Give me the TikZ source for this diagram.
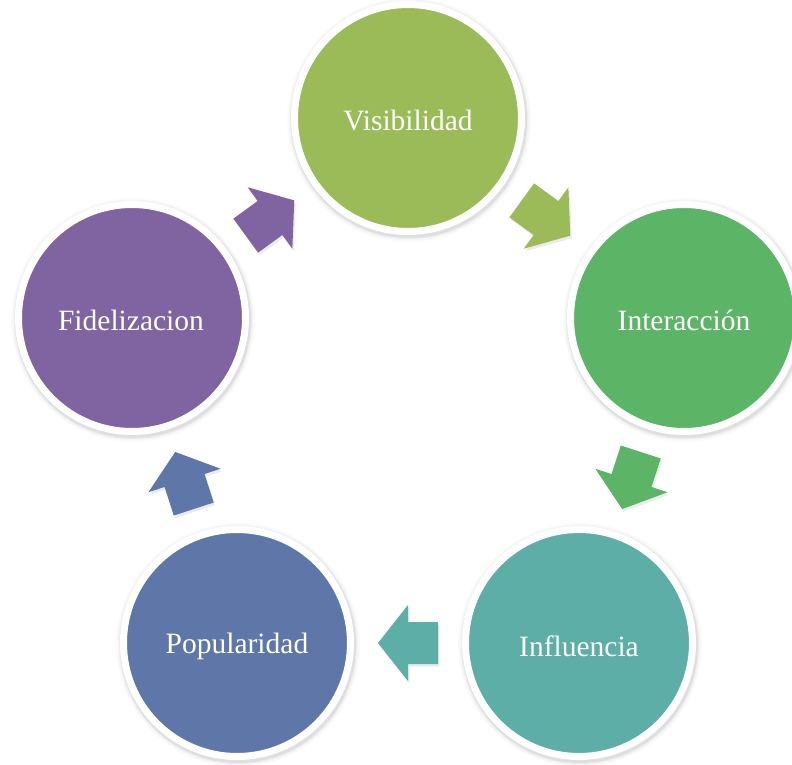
\documentclass[tikz,border=0pt]{standalone}
\usepackage{fontspec}
\setmainfont{Liberation Serif}
\usetikzlibrary{calc}
\definecolor{cvis}{HTML}{9BBB59}
\definecolor{cint}{HTML}{5CB467}
\definecolor{cinf}{HTML}{5CAEA6}
\definecolor{cpop}{HTML}{5F77A8}
\definecolor{cfid}{HTML}{8064A1}
\newcommand{\bkarrow}[4]{%
  \path ($(#1)!0.5!(#2)$) coordinate (m#1);
  \fill[black,opacity=0.08,shift={($(m#1)+(1.5,2.5)$)},rotate=#3]
    (-30,-21) -- (0,-21) -- (0,-38) -- (30,0) -- (0,38) -- (0,21) -- (-30,21) -- cycle;
  \fill[#4,shift={(m#1)},rotate=#3]
    (-30,-21) -- (0,-21) -- (0,-38) -- (30,0) -- (0,38) -- (0,21) -- (-30,21) -- cycle;
}
\begin{document}
\begin{tikzpicture}[x=1pt,y=-1pt,
  bubble/.style={circle, minimum size=227pt, inner sep=0pt, draw=white,
    line width=7pt, text=white, font=\fontsize{29.5}{34}\selectfont},
  lbl/.style={text=white, font=\fontsize{29.5}{34}\selectfont, inner sep=0pt}]
\fill[white] (0,0) rectangle (792,765);
\useasboundingbox (0,0) rectangle (792,765);
% soft shadows
\foreach \x/\y in {408/118, 684/318, 579/643, 237/643, 132/318}{
  \foreach \r/\o in {122/0.015,120.5/0.025,119/0.035,118/0.05}{
    \fill[black,opacity=\o] (\x+1,\y+2) circle[radius=\r pt];
  }
}
\node[bubble, fill=cvis] (vis) at (408,118) {};
\node[bubble, fill=cint] (int) at (684,318) {};
\node[bubble, fill=cinf] (inf) at (579,643) {};
\node[bubble, fill=cpop] (pop) at (237,643) {};
\node[bubble, fill=cfid] (fid) at (132,318) {};
\node[lbl] (tvis) at ($(vis)+(0,2)$) {Visibilidad};
\node[lbl] (tint) at ($(int)+(0,2)$) {Interacción};
\node[lbl] (tinf) at ($(inf)+(0,3)$) {Influencia};
\node[lbl] (tpop) at ($(pop)+(0,3)$) {Popularidad};
\node[lbl] (tfid) at ($(fid)+(-1,2)$) {Fidelizacion};
\bkarrow{vis}{int}{-36}{cvis}
\bkarrow{int}{inf}{-108}{cint}
\bkarrow{inf}{pop}{180}{cinf}
\bkarrow{pop}{fid}{108}{cpop}
\bkarrow{fid}{vis}{36}{cfid}
\end{tikzpicture}
\end{document}
